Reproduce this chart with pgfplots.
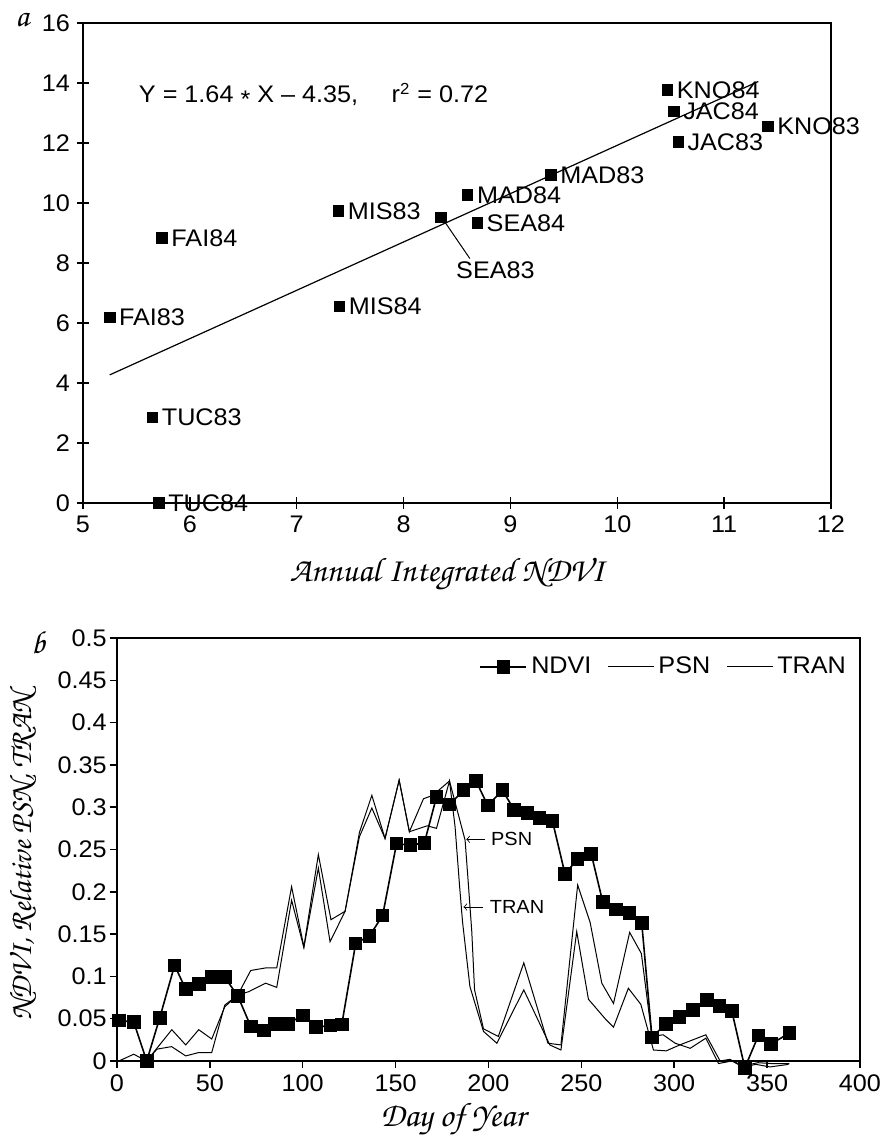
\documentclass[border=0pt]{standalone}
\usepackage[T1]{fontenc}
\usepackage{fontspec}
\setmainfont{Liberation Sans}[FakeStretch=1.05]
\usepackage{pgfplots}
\pgfplotsset{compat=1.18}
\newcommand\zc{\fontencoding{T1}\fontfamily{pzc}\fontseries{mb}\fontshape{it}\selectfont}
\newcommand\lbl{\fontsize{12}{14}\selectfont}

\pgfplotstableread{
x y label
10.47 13.77 KNO84
10.53 13.05 JAC84
11.41 12.55 KNO83
10.57 12.04 JAC83
9.38 10.93 MAD83
8.60 10.27 MAD84
7.39 9.73 MIS83
8.69 9.34 SEA84
5.74 8.84 FAI84
7.40 6.56 MIS84
5.25 6.19 FAI83
5.65 2.85 TUC83
5.71 0.00 TUC84
}\sites

\pgfplotstableread{
day v
1 0.048
9 0.046
16 0.000
23 0.051
31 0.113
37 0.085
44 0.091
51 0.099
58 0.099
65 0.077
72 0.041
79 0.036
85 0.044
92 0.044
100 0.054
107 0.040
115 0.042
121 0.043
128.5 0.139
136 0.148
143 0.172
150.5 0.257
158 0.255
165.5 0.258
172 0.312
179 0.303
186.5 0.320
193.3 0.331
199.6 0.302
207.5 0.320
213.8 0.297
221 0.293
227.4 0.287
234.4 0.284
241.2 0.221
248 0.239
255.3 0.245
261.5 0.188
268.5 0.179
275.9 0.175
282.5 0.163
288 0.028
295.6 0.044
302.8 0.052
310 0.060
317.5 0.072
324.3 0.065
331 0.059
338 -0.008
345.3 0.030
352 0.020
362 0.033
}\ndvi

\pgfplotstableread{
day v
1 0
9 0.008
16 0
29.5 0.037
37 0.019
44 0.037
51 0.026
58 0.064
65 0.078
72 0.107
80 0.110
86 0.110
94 0.206
100.6 0.135
108.4 0.244
115.2 0.167
122.8 0.177
130.5 0.270
137.2 0.314
144.3 0.263
151.9 0.332
157.4 0.271
165 0.310
170 0.314
179 0.331
187.4 0.261
189 0.214
191 0.153
192.5 0.084
197.3 0.038
205.3 0.029
219 0.116
232 0.021
239 0.019
248 0.208
254.7 0.164
261 0.092
267.3 0.068
276 0.152
282.3 0.127
288 0.029
294 0.031
300.5 0.021
308.6 0.015
317 0.027
323.8 -0.003
331 0
337 -0.007
344 -0.004
351.6 -0.007
361.5 -0.004
}\psn

\pgfplotstableread{
day v
1 0
16 0
21.5 0.014
29.4 0.017
37 0.006
44 0.010
51 0.010
58 0.066
65 0.078
71 0.082
80 0.092
86 0.087
94 0.190
100.6 0.134
108.4 0.228
114.7 0.141
122.8 0.177
130.5 0.265
137.2 0.299
144.3 0.263
151.9 0.332
157.4 0.271
167 0.278
172 0.275
179 0.331
182 0.277
184.5 0.205
186 0.165
190 0.088
197.3 0.035
204.5 0.021
219 0.084
233 0.019
239 0.013
247.5 0.153
253.8 0.073
262.8 0.050
267.3 0.040
275.3 0.086
282 0.067
288.8 0.013
295.7 0.012
303 0.019
310 0.025
317 0.031
324.7 0
330 0.002
337 -0.006
345 -0.002
352 -0.003
362 -0.003
}\tran

\begin{document}
\begin{tikzpicture}[x=1pt,y=1pt]
\path[use as bounding box] (0,0) rectangle (442,570.5);

% panel a
\begin{axis}[
    at={(41.5pt,319pt)}, anchor=south west,
    scale only axis, width=374pt, height=240pt,
    xmin=5, xmax=12, ymin=0, ymax=16,
    xtick={5,6,...,12}, ytick={0,2,...,16},
    tick pos=left, tick align=center, major tick length=6pt,
    axis line style={line width=0.75pt},
    tick style={line width=0.75pt, black},
    tick label style={font=\lbl},
    /pgf/number format/assume math mode=true,
    clip=false
]
    \addplot[only marks, mark=square*, mark size=2.6pt,
        nodes near coords, point meta=explicit symbolic,
        nodes near coords style={anchor=west, font=\lbl, inner sep=1pt, xshift=3.5pt}]
        table[x=x, y=y, meta=label] {\sites};
    \addplot[only marks, mark=square*, mark size=2.6pt] coordinates {(8.35,9.52)};
    \addplot[line width=0.6pt] coordinates {(5.25,4.27) (11.32,14.05)};
    \draw[line width=0.5pt] (axis cs:8.38,9.40) -- (axis cs:8.62,8.15);
    \node[anchor=north, font=\lbl, inner sep=1pt] at (axis cs:8.86,8.12) {SEA83};
    \node[anchor=west, font=\lbl, inner sep=0pt] at (axis cs:5.52,13.6)
        {Y = 1.64 \raisebox{-0.35ex}{*} X – 4.35,\hspace{1.1em} r\textsuperscript{2} = 0.72};
\end{axis}

% panel b
\begin{axis}[
    at={(58.5pt,40pt)}, anchor=south west,
    scale only axis, width=371.5pt, height=211.5pt,
    xmin=0, xmax=400, ymin=0, ymax=0.5,
    xtick={0,50,...,400},
    ytick={0,0.05,0.1,0.15,0.2,0.25,0.3,0.35,0.4,0.45,0.5},
    tick pos=left, tick align=outside, major tick length=3.5pt,
    axis line style={line width=0.75pt},
    tick style={line width=0.75pt, black},
    tick label style={font=\lbl},
    yticklabel style={/pgf/number format/fixed, /pgf/number format/precision=2, inner sep=1.5pt},
    /pgf/number format/assume math mode=true,
    clip=false,
    legend columns=3,
    legend style={draw=none, fill=none, font=\lbl, at={(rel axis cs:0.995,0.975)}, anchor=north east,
        /tikz/every even column/.append style={column sep=6pt}},
    legend image code/.code={\draw[mark repeat=2, mark phase=2, #1] plot coordinates {(0pt,0pt) (11.5pt,0pt) (23pt,0pt)};}
]
    \addplot[black, line width=0.8pt, mark=square*, mark size=3pt] table[x=day, y=v] {\ndvi};
    \addlegendentry{NDVI}
    \addplot[black, line width=0.5pt] table[x=day, y=v] {\psn};
    \addlegendentry{PSN}
    \addplot[black, line width=0.5pt] table[x=day, y=v] {\tran};
    \addlegendentry{TRAN}
    \draw[<-, line width=0.4pt] (axis cs:188,0.262) -- (axis cs:198,0.262)
        node[right, font=\fontsize{9.5}{11}\selectfont, inner sep=1pt, xshift=2pt] {PSN};
    \draw[<-, line width=0.4pt] (axis cs:186.5,0.182) -- (axis cs:197.3,0.182)
        node[right, font=\fontsize{9.5}{11}\selectfont, inner sep=1pt, xshift=2pt] {TRAN};
\end{axis}

% panel letters and axis titles
\node[font=\zc\fontsize{16}{18}\selectfont] at (11,560.5) {a};
\node[font=\zc\fontsize{16}{18}\selectfont] at (19,249.5) {b};
\node[font=\zc\fontsize{17}{19}\selectfont] at (223.5,283) {Annual Integrated NDVI};
\node[font=\zc\fontsize{17}{19}\selectfont] at (226.5,10.5) {Day of Year};
\node[font=\zc\fontsize{15.5}{18}\selectfont, rotate=90] at (11.5,142) {NDVI, Relative PSN, TRAN};
\end{tikzpicture}
\end{document}
